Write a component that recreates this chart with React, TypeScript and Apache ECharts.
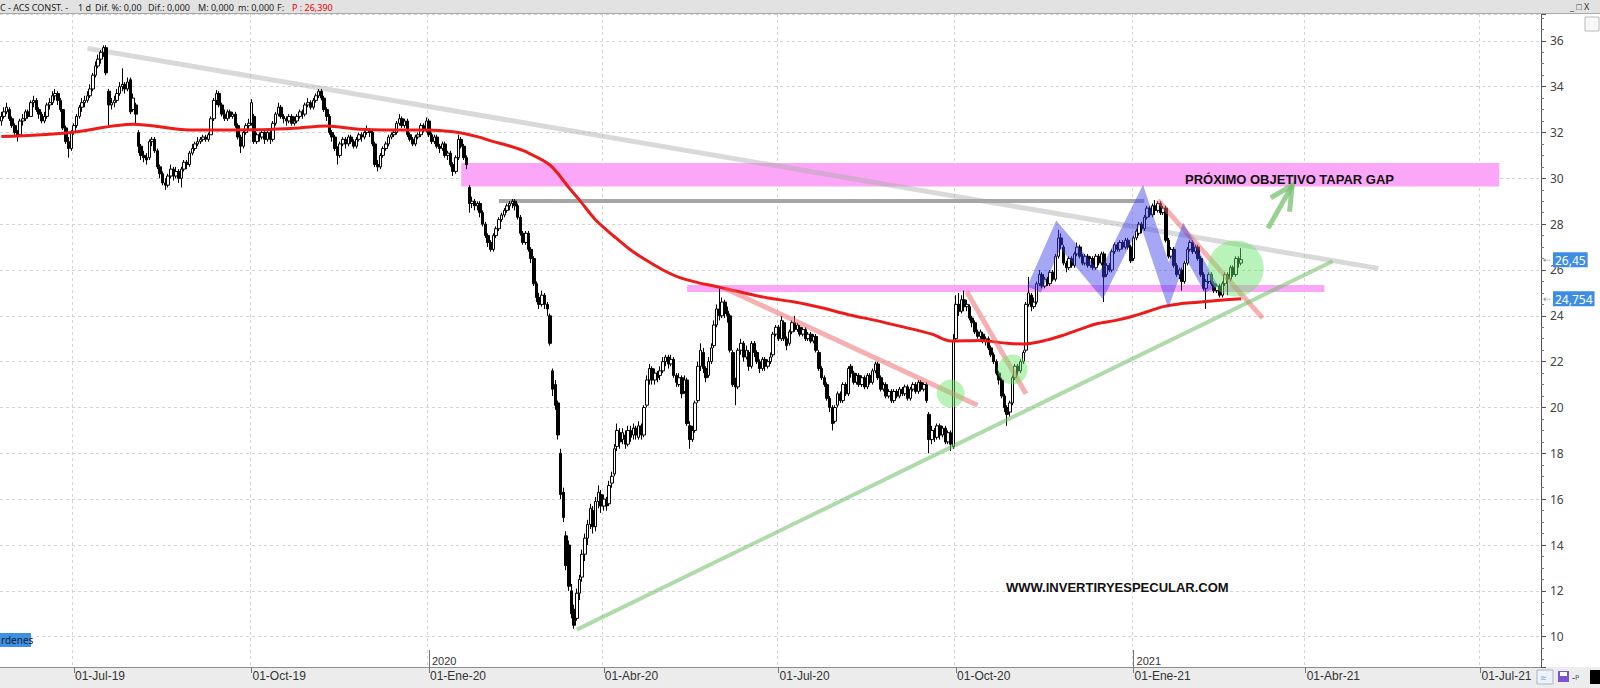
import React, { useEffect, useRef } from "react";
import * as echarts from "echarts";

// ---------- axis / calendar ----------
const START_DATE = "2019-05-23";
const SESSION_COUNT = 573;
const QUARTER_DATES = ["2019-07-01", "2019-10-01", "2020-01-01", "2020-04-01", "2020-07-01", "2020-10-01", "2021-01-01", "2021-04-01", "2021-07-01"];
const QUARTER_LABELS = ["01-Jul-19", "01-Oct-19", "01-Ene-20", "01-Abr-20", "01-Jul-20", "01-Oct-20", "01-Ene-21", "01-Abr-21", "01-Jul-21"];
const YEAR_DATES = ["2020-01-01", "2021-01-01"];
const YEAR_LABELS = ["2020", "2021"];
const Y_MIN = 8.678;
const Y_MAX = 37.169;

// ---------- candles [open, close, low, high] ----------
const candles2019a = [
  [32.5,32.7,32.3,32.9],[32.7,32.9,32.6,33.1],[32.9,33.1,32.8,33.3],[33.0,32.6,32.5,33.1],[32.6,32.3,32.2,32.7],
  [32.3,32.0,31.9,32.4],[32.0,31.9,31.6,32.1],[31.9,32.5,31.8,32.6],[32.5,32.6,32.3,32.8],[32.6,32.9,32.5,33.0],
  [32.9,32.7,32.6,33.0],[32.7,33.3,32.7,33.4],[33.3,33.4,33.1,33.6],[33.4,33.0,32.9,33.5],[33.0,32.8,32.6,33.1],
  [32.8,32.5,32.4,32.9],[32.5,32.7,32.4,32.9],[32.7,33.2,32.6,33.3],[33.2,33.3,33.0,33.5],[33.3,33.6,33.2,33.8],
  [33.6,33.7,33.4,33.9],[33.7,33.4,33.2,33.8],[33.4,33.0,32.9,33.5],[33.0,32.2,32.1,33.0],[32.2,31.6,31.5,32.3],
  [31.6,31.3,30.9,31.8],[31.3,32.0,31.2,32.1],[32.0,32.3,31.9,32.4],[32.3,32.7,32.2,32.8],[32.7,33.1,32.6,33.2],
  [33.1,33.3,32.9,33.5],[33.3,33.4,33.1,33.6],[33.4,33.6,33.3,33.8],[33.6,33.9,33.5,34.1],[33.9,34.5,33.8,34.6],
  [34.5,34.9,34.4,35.1],[34.9,35.2,34.8,35.4],[35.2,35.5,35.0,35.6],[35.5,35.7,35.3,35.8],[35.7,34.6,34.5,35.8],
  [33.8,33.2,32.3,33.9],[33.2,33.3,33.0,33.5],[33.3,33.4,33.1,33.6],[33.4,33.7,33.3,33.9],[33.7,34.0,33.6,34.2],
  [34.0,34.1,33.8,34.8],[34.1,33.9,33.7,34.2],[33.9,34.2,33.8,34.4],[34.3,32.9,32.8,34.4],[33.0,33.5,32.9,33.7],
  [33.2,32.8,32.4,33.3],[32.0,31.4,31.1,32.1],[31.4,31.0,30.8,31.5],[31.0,30.9,30.7,31.2],[30.9,30.8,30.6,31.1],
  [30.9,31.6,30.8,31.7],[31.6,31.7,31.4,31.8],[31.7,31.2,31.1,31.8],[31.2,30.5,30.4,31.3],[30.5,30.2,30.0,30.6],
  [30.2,29.8,29.7,30.3],[29.8,29.7,29.5,30.0],[29.7,30.1,29.6,30.2],[30.1,30.4,30.0,30.6],[30.4,30.1,29.9,30.5],
  [30.1,30.3,30.0,30.5],[30.3,30.0,29.8,30.4],[30.0,30.4,29.6,30.5],[30.4,30.7,30.3,30.8],[30.7,30.6,30.4,30.8],
  [30.6,31.1,30.5,31.2],[31.1,31.3,31.0,31.5],[31.3,31.5,31.2,31.6],[31.5,31.6,31.4,31.8],[31.6,31.7,31.5,31.8],
  [31.7,31.8,31.6,31.9],[31.8,31.7,31.6,31.9],[31.7,31.9,31.6,32.0],[31.9,32.6,31.9,32.7],[32.6,33.4,32.5,33.5],
  [33.4,33.7,33.2,33.85],[33.7,33.2,33.1,33.8],[33.2,32.8,32.7,33.3],[32.8,32.6,32.5,33.0],[32.6,32.9,32.5,33.0],
  [32.9,32.7,32.6,33.0],[32.7,32.8,32.6,32.9],[32.8,32.3,32.2,32.9],[32.3,31.8,31.7,32.4],[31.8,31.4,31.1,31.9],
  [31.4,32.0,31.3,32.1],[32.0,32.3,31.9,32.4],[32.3,32.4,32.1,32.6],[32.4,33.3,32.3,33.45],[32.7,31.6,31.5,32.8],
  [31.6,31.9,31.5,32.0],[31.9,31.8,31.6,32.0],[31.8,32.0,31.7,32.1],[32.0,31.7,31.5,32.1],[31.7,32.0,31.6,32.1]
];
const candles2019b = [
  [32.0,31.7,31.5,32.1],[31.7,32.4,31.6,32.5],[32.4,32.8,32.3,32.9],[32.8,33.1,32.7,33.3],[33.1,32.7,32.6,33.2],
  [32.7,32.6,32.4,32.8],[32.6,32.5,32.3,32.7],[32.5,32.7,32.4,32.8],[32.7,32.4,32.3,32.8],[32.4,32.5,32.3,32.7],
  [32.5,32.7,32.4,32.8],[32.7,32.9,32.6,33.0],[32.9,32.8,32.6,33.0],[32.8,33.2,32.7,33.3],[33.2,33.3,33.1,33.5],
  [33.3,33.1,33.0,33.4],[33.1,33.4,33.0,33.5],[33.4,33.6,33.3,33.7],[33.6,33.8,33.5,33.9],[33.8,33.5,33.4,33.9],
  [33.5,33.0,32.9,33.6],[33.0,32.7,32.5,33.1],[32.7,32.0,31.9,32.8],[32.0,31.8,31.6,32.1],[31.8,31.3,31.2,31.9],
  [31.3,31.0,30.6,31.4],[31.0,31.5,30.9,31.6],[31.5,31.7,31.4,31.8],[31.7,31.5,31.3,31.8],[31.5,31.8,31.4,31.9],
  [31.8,31.6,31.5,31.9],[31.6,31.4,31.3,31.7],[31.4,31.7,31.3,31.8],[31.7,31.9,31.6,32.0],[31.9,31.8,31.6,32.0],
  [31.8,32.0,31.7,32.1],[32.0,32.1,31.9,32.3],[32.1,32.0,31.8,32.2],[32.0,31.5,31.4,32.1],[31.5,30.6,30.5,31.6],
  [30.6,30.5,30.3,30.8],[30.5,31.0,30.4,31.1],[31.0,31.3,30.9,31.4],[31.3,31.5,31.2,31.6],[31.5,31.8,31.4,31.9],
  [31.8,31.9,31.7,32.0],[31.9,32.0,31.8,32.1],[32.0,32.4,31.9,32.5],[32.4,32.6,32.3,32.8],[32.6,32.3,32.2,32.7],
  [32.3,32.5,32.2,32.6],[32.5,31.9,31.8,32.6],[31.9,31.7,31.6,32.0],[31.7,31.5,31.4,31.8],[31.5,31.8,31.4,31.9],
  [31.8,31.9,31.7,32.0],[31.9,32.3,31.8,32.4],[32.3,32.1,32.0,32.4],[32.1,32.5,32.0,32.65],[32.5,31.9,31.8,32.6],
  [31.9,31.6,31.5,32.0],[31.6,31.8,31.5,31.9],[31.8,31.4,31.3,31.9],[31.4,31.3,31.1,31.5],[31.3,31.5,31.2,31.6],
  [31.5,31.0,30.9,31.6],[31.0,31.1,30.8,31.2],[31.1,30.6,30.5,31.2],[30.6,30.3,30.1,30.7],[30.3,30.9,30.2,31.0],
  [30.9,31.7,30.8,31.9],[31.7,31.4,31.3,31.8],[31.4,30.9,30.8,31.5],[30.9,30.6,30.4,31.0],[29.6,28.9,28.5,29.7],
  [28.9,29.0,28.7,29.2],[29.0,28.8,28.6,29.1],[28.8,28.9,28.6,29.0],[28.9,28.5,28.3,29.0],[28.5,28.0,27.9,28.6],
  [28.0,27.5,27.4,28.1],[27.5,27.2,27.0,27.6],[27.2,26.9,26.8,27.3],[26.9,27.5,26.8,27.6],[27.5,27.8,27.4,27.9],
  [27.8,28.2,27.7,28.3],[28.2,28.4,28.1,28.5],[28.4,28.6,28.3,28.7],[28.6,28.8,28.5,28.9],[28.8,28.9,28.6,29.0],
  [28.9,29.0,28.7,29.1],[29.0,28.8,28.6,29.1],[28.8,28.3,28.2,28.9],[28.3,27.6,27.5,28.4],[27.6,27.2,27.1,27.7],
  [27.2,27.6,27.1,27.7],[27.6,26.9,26.8,27.7],[26.9,26.5,26.3,27.0],[26.5,25.4,25.3,26.6],[25.4,24.8,24.6,25.5]
];
const candles2020a = [
  [24.8,24.5,24.3,25.0],[24.5,24.9,24.4,25.1],[24.9,24.5,24.3,25.0],[24.5,24.3,24.0,24.6],[24.0,22.8,22.7,24.1],
  [21.6,20.8,20.5,21.7],[21.0,20.1,19.9,21.2],[20.2,18.8,18.6,20.3],[18.0,16.2,16.0,18.2],[16.3,15.2,15.0,16.5],
  [14.4,13.1,12.9,14.6],[14.0,12.2,12.0,14.2],[12.0,11.0,10.8,12.3],[11.2,10.5,10.35,11.4],[10.8,11.9,10.7,12.1],
  [11.9,12.5,11.6,12.7],[12.6,13.6,12.4,13.8],[13.6,14.3,13.3,14.5],[14.3,14.9,14.0,15.1],[14.9,15.6,14.7,15.8],
  [15.5,14.8,14.5,15.7],[14.8,15.9,14.6,16.1],[15.9,16.3,15.6,16.6],[16.2,15.7,15.4,16.4],[15.7,16.0,15.5,16.2],
  [16.0,15.7,15.5,16.1],[15.8,16.6,15.7,16.8],[16.7,17.0,16.5,17.2],[17.1,18.2,17.0,18.4],[18.3,19.0,18.1,19.3],
  [18.9,18.5,18.2,19.1],[18.6,18.9,18.4,19.1],[18.8,18.4,18.2,19.0],[18.4,19.0,18.3,19.2],[19.0,18.7,18.5,19.2],
  [18.8,19.1,18.6,19.3],[19.1,18.8,18.6,19.2],[18.7,19.2,18.6,19.4],[19.2,18.8,18.6,19.3],[18.8,20.0,18.7,20.1],
  [20.1,21.2,20.0,21.4],[21.2,21.7,21.0,21.9],[21.7,21.2,21.0,21.8],[21.2,21.5,21.0,21.7],[21.5,21.3,21.1,21.6],
  [21.4,21.6,21.2,21.8],[21.6,22.0,21.5,22.2],[22.0,22.2,21.8,22.3],[22.2,21.9,21.7,22.3],[21.9,22.1,21.8,22.3],
  [22.1,21.4,21.3,22.2],[21.4,21.1,20.9,21.5],[21.0,21.3,20.9,21.5],[21.3,20.6,20.4,21.4],[20.7,21.2,20.6,21.4],
  [21.2,19.3,19.2,21.3],[19.2,18.6,18.2,19.4],[18.6,19.0,18.5,19.2],[19.0,20.2,18.9,20.3],[20.3,21.8,20.2,22.0],
  [21.8,22.5,21.6,22.8],[22.4,21.7,21.5,22.6],[21.7,21.3,21.1,21.8],[21.4,22.0,21.3,22.2],[22.0,22.6,21.9,22.8],
  [22.7,23.6,22.6,23.8],[23.6,24.3,23.5,24.5],[24.3,24.0,23.8,25.2],[24.0,24.6,23.9,24.8],[24.6,24.1,23.9,24.7],
  [24.2,24.0,23.7,24.4],[24.0,22.5,22.4,24.1],[22.4,21.0,20.9,22.5],[21.0,20.9,20.1,21.3],[20.9,22.5,20.8,22.6],
  [22.5,22.8,22.3,23.0],[22.8,22.2,22.0,22.9],[22.2,22.5,22.1,22.7],[22.4,21.8,21.6,22.5],[21.8,22.8,21.7,22.9],
  [22.8,22.4,22.2,22.9],[22.4,22.0,21.9,22.5],[22.0,21.7,21.5,22.1],[21.7,22.1,21.6,22.2],[22.1,21.8,21.6,22.2],
  [21.8,22.0,21.7,22.1],[22.0,22.2,21.9,22.4],[22.3,23.2,22.2,23.3],[23.2,23.5,23.1,23.6],[23.5,23.0,22.9,23.6],
  [23.0,23.8,22.9,24.0],[23.7,23.0,22.9,23.8],[23.0,22.7,22.5,23.1],[22.8,23.3,22.7,23.4],[23.3,23.7,23.2,23.8],
  [23.7,23.4,23.3,24.0],[23.4,23.6,23.3,23.7],[23.5,23.2,23.1,23.6],[23.2,23.4,23.1,23.5],[23.4,23.0,22.9,23.5]
];
const candles2020b = [
  [23.0,23.2,22.9,23.3],[23.2,22.9,22.8,23.3],[22.9,23.1,22.8,23.2],[23.1,22.5,22.4,23.2],[22.4,21.7,21.6,22.5],
  [21.7,21.3,21.2,21.8],[21.3,21.0,20.9,21.4],[21.0,20.4,20.3,21.1],[20.4,20.0,19.8,20.5],[20.0,19.3,19.0,20.1],
  [19.4,20.0,19.3,20.1],[20.1,20.6,20.0,20.7],[20.6,20.3,20.2,20.7],[20.3,21.0,20.2,21.1],[21.0,20.6,20.5,21.1],
  [20.6,21.7,20.5,21.8],[21.8,21.5,21.3,21.9],[21.5,21.1,21.0,21.6],[21.1,21.4,21.0,21.5],[21.4,21.0,20.9,21.5],
  [21.0,21.3,20.9,21.4],[21.3,20.9,20.8,21.4],[20.9,21.4,20.8,21.5],[21.4,21.1,21.0,21.5],[21.1,21.6,21.0,21.7],
  [21.6,21.9,21.5,22.0],[21.9,21.3,21.2,22.0],[21.3,20.8,20.7,21.4],[20.8,21.0,20.7,21.1],[21.0,20.5,20.4,21.1],
  [20.5,20.7,20.4,20.8],[20.7,20.3,20.2,20.8],[20.3,20.7,20.2,20.8],[20.7,20.5,20.4,20.8],[20.5,20.8,20.4,20.9],
  [20.8,20.6,20.5,20.9],[20.6,20.9,20.5,21.0],[20.9,20.4,20.3,21.0],[20.4,20.8,20.3,20.9],[20.8,21.0,20.7,21.1],
  [21.0,20.7,20.6,21.1],[20.7,21.1,20.6,21.2],[21.1,20.8,20.7,21.2],[20.8,21.0,20.7,21.1],[21.0,20.3,20.2,21.1],
  [19.7,18.6,18.0,19.8],[18.6,19.0,18.4,19.2],[19.0,18.7,18.5,19.1],[18.7,19.2,18.6,19.3],[19.2,18.8,18.6,19.3],
  [18.8,19.1,18.7,19.2],[19.1,18.5,18.4,19.2],[18.5,18.9,18.4,19.0],[18.9,18.4,18.1,19.0],[18.3,22.9,18.2,23.2],
  [23.0,24.5,22.9,24.9],[24.5,24.2,24.0,25.0],[24.2,24.7,24.1,24.9],[24.7,24.4,24.2,25.1],[24.4,24.5,24.2,24.7],
  [24.4,23.9,23.8,24.5],[23.9,23.7,23.5,24.0],[23.7,23.3,23.2,23.8],[23.3,23.1,23.0,23.4],[23.1,23.3,23.0,23.4],
  [23.2,22.9,22.8,23.3],[22.9,23.0,22.7,23.1],[23.0,22.6,22.5,23.1],[22.6,22.3,22.2,22.7],[22.3,22.0,21.9,22.4],
  [22.0,21.5,21.4,22.1],[21.5,21.2,21.0,21.6],[21.2,20.5,20.4,21.3],[20.5,20.0,19.8,20.6],[20.0,19.7,19.2,20.1],
  [19.8,20.2,19.6,20.3],[20.2,21.3,20.1,21.4],[21.3,21.8,21.2,21.9],[21.8,21.6,21.4,21.9],[21.6,22.0,21.5,22.1],
  [22.0,22.4,21.9,22.5],[22.5,24.5,22.4,24.6],[24.5,25.0,24.4,25.7],[24.9,24.4,24.2,25.0],[24.4,24.6,24.3,24.8],
  [24.6,25.4,24.5,25.5],[25.4,25.8,25.3,26.0],[25.8,25.3,25.2,25.9],[25.3,25.6,25.2,25.7],[25.6,25.4,25.3,25.7],
  [25.4,25.9,25.3,26.0],[25.9,25.6,25.5,26.0],[25.6,26.6,25.5,26.7],[26.6,27.4,26.5,27.75],[27.4,27.1,26.9,27.6],
  [27.0,26.3,26.2,27.1],[26.3,26.1,25.9,26.4],[26.1,26.5,26.0,26.6],[26.5,26.2,26.1,26.6],[26.2,26.7,26.1,26.8]
];
const candles2021 = [
  [26.7,27.0,26.6,27.2],[27.0,26.6,26.5,27.1],[26.6,26.3,26.2,26.7],[26.3,26.6,26.2,26.7],[26.6,26.2,26.1,26.7],
  [26.2,26.5,26.1,26.6],[26.5,26.1,26.0,26.6],[26.1,26.6,26.0,26.7],[26.6,26.3,26.2,26.7],[26.3,26.7,26.2,26.8],
  [26.7,25.7,24.6,26.8],[25.8,26.2,25.7,26.3],[26.2,26.0,25.9,26.3],[26.0,26.8,25.9,26.9],[26.8,27.1,26.7,27.2],
  [27.1,26.9,26.8,27.2],[26.9,27.2,26.8,27.3],[27.2,27.0,26.9,27.3],[27.0,27.3,26.9,27.4],[27.3,27.0,26.9,27.4],
  [27.0,26.4,26.3,27.1],[26.5,27.4,26.4,27.5],[27.4,27.7,27.3,27.8],[27.6,28.0,27.5,28.1],[28.0,27.8,27.6,28.1],
  [27.8,28.3,27.7,28.4],[28.3,28.7,28.2,28.8],[28.7,28.4,28.3,28.8],[28.4,28.8,28.3,28.9],[28.8,28.6,28.4,29.05],
  [28.6,28.9,28.5,29.0],[28.9,28.5,28.4,29.0],[28.5,28.7,28.4,28.8],[28.7,27.3,27.2,28.8],[27.3,26.6,26.5,27.4],
  [26.6,26.9,26.5,27.0],[26.9,26.2,26.1,27.0],[26.2,25.8,25.7,26.3],[25.8,26.0,25.6,26.1],[26.0,25.5,25.1,26.1],
  [25.5,26.3,25.4,26.4],[26.3,26.9,26.2,27.0],[26.9,27.2,26.8,27.3],[27.2,26.8,26.7,27.3],[26.8,27.0,26.7,27.1],
  [27.0,26.5,26.4,27.1],[26.5,25.8,25.7,26.6],[25.8,25.2,25.1,25.9],[25.2,25.5,24.3,25.6],[25.5,25.8,25.4,25.9],
  [25.8,25.4,25.3,25.9],[25.4,25.1,25.0,25.5],[25.1,25.3,25.0,25.4],[25.3,24.9,24.8,25.4],[24.9,25.4,24.8,25.5],
  [25.4,25.8,25.3,25.9],[25.8,25.6,24.9,25.9],[25.6,26.1,25.5,26.2],[26.1,25.8,25.7,26.2],[25.8,26.5,25.7,26.6],
  [26.5,26.3,26.1,26.6],[26.3,26.45,26.2,26.95]
];

// ---------- moving average (session index, value) ----------
const movingAverage = [
  [0,31.82],[25,31.99],[49,32.36],[70,32.11],[85,32.11],[97,32.12],[109,32.18],[121,32.28],[133,32.14],[146,32.11],
  [158,32.11],[168,32.03],[177,31.82],[183,31.6],[189,31.41],[195,31.16],[204,30.58],[211,29.6],[215,29.05],[221,28.18],
  [228,27.45],[234,26.87],[240,26.41],[246,26.0],[252,25.68],[259,25.45],[265,25.3],[271,25.14],[278,24.95],[285,24.78],
  [295,24.6],[305,24.35],[315,24.05],[325,23.8],[334,23.55],[346,23.2],[353,22.9],[364,22.92],[374,22.8],[380,22.77],
  [389,22.95],[395,23.16],[401,23.41],[407,23.64],[414,23.79],[420,23.96],[426,24.18],[432,24.4],[438,24.52],[445,24.59],
  [451,24.66],[461,24.75]
];

// ---------- drawn annotations (session index, price) ----------
const longDowntrend = [[32, 35.67], [512, 26.07]];
const resistanceLine = [[185, 29.01], [425, 29.01]];
const gapZone = [[171, 30.67], [557, 29.64]];
const supportLine = [[255, 25.19], [492, 25.19]];
const downLineA = [[269, 25.2], [363, 20.1]];
const downLineB = [[359, 25.05], [381, 20.6]];
const downLineC = [[430, 29.05], [469, 23.9]];
const uptrendLine = [[214, 10.31], [495, 26.38]];
const zigzag = [[384, 25.15], [393, 27.55], [409, 25.33], [424, 28.86], [434, 25.33], [440, 27.28], [450, 25.15]];
const arrowShaft = [[471, 27.82], [480, 29.69]];
const arrowHead = [[472, 29.15], [480, 29.69], [479, 28.54]];
const breakoutCircles = [[353, 20.61], [376, 21.66], [459, 26.07]];
const CIRCLE_DIAMETERS = [28, 30, 56];
const PRICE_TAGS = [26.45, 24.754];
const PRICE_TAG_TEXTS = ["26,45", "24,754"];

function buildSessions(start: string, count: number): string[] {
  const out: string[] = [];
  const d = new Date(start + "T00:00:00Z");
  while (out.length < count) {
    const wd = d.getUTCDay();
    if (wd !== 0 && wd !== 6) out.push(d.toISOString().slice(0, 10));
    d.setUTCDate(d.getUTCDate() + 1);
  }
  return out;
}

const NARROW = "'Liberation Sans Narrow', 'Liberation Sans', Arial, sans-serif";
const UI_FONT = "'Noto Sans', 'Open Sans', sans-serif";

function lineSeries(data: number[][], color: string, width: number, z: number, extra: any = {}) {
  return {
    type: "line",
    data,
    xAxisIndex: 0,
    yAxisIndex: 0,
    symbol: "none",
    showSymbol: false,
    silent: true,
    z,
    lineStyle: { color, width, cap: "butt", join: "miter" },
    ...extra,
  };
}

export default function App() {
  const ref = useRef<HTMLDivElement>(null);

  useEffect(() => {
    if (!ref.current) return;
    const chart = echarts.init(ref.current, undefined, { renderer: "svg" });
    const sessions = buildSessions(START_DATE, SESSION_COUNT);
    const quarterMap: Record<string, string> = {};
    QUARTER_DATES.forEach((d, i) => (quarterMap[d] = QUARTER_LABELS[i]));
    const yearMap: Record<string, string> = {};
    YEAR_DATES.forEach((d, i) => (yearMap[d] = YEAR_LABELS[i]));
    const isQuarter = (_i: number, v: string) => quarterMap[v] !== undefined;
    const isYear = (_i: number, v: string) => yearMap[v] !== undefined;

    const candles = [...candles2019a, ...candles2019b, ...candles2020a, ...candles2020b, ...candles2021];

    const headerParts: [number, string, string][] = [
      [0, "C - ACS CONST. -", "#222"],
      [78, "1 d", "#222"],
      [95, "Dif. %: 0,00", "#222"],
      [148, "Dif.: 0,000", "#222"],
      [198, "M: 0,000", "#222"],
      [238, "m: 0,000", "#222"],
      [277, "F:", "#222"],
      [292, "P : 26,390", "#e60000"],
    ];

    const option: any = {
      animation: false,
      backgroundColor: "#ffffff",
      grid: { left: 0, right: 59, top: 14, bottom: 21, containLabel: false, outerBoundsMode: "none" },
      xAxis: [
        {
          type: "category",
          data: sessions,
          boundaryGap: true,
          position: "bottom",
          axisLine: { show: true, lineStyle: { color: "#8c8c8c", width: 1 } },
          axisTick: { show: true, alignWithLabel: true, interval: isQuarter, length: 6, lineStyle: { color: "#777" } },
          axisLabel: {
            interval: isQuarter,
            formatter: (v: string) => quarterMap[v] ?? "",
            align: "left",
            margin: 3,
            padding: [0, 0, 0, 1],
            fontSize: 12,
            fontFamily: NARROW,
            color: "#333",
          },
          splitLine: { show: true, interval: isQuarter, lineStyle: { color: "#d4d4d4", type: [3, 3], width: 1 } },
        },
        {
          type: "category",
          data: sessions,
          boundaryGap: true,
          position: "bottom",
          axisLine: { show: false },
          axisTick: { show: true, inside: true, alignWithLabel: true, interval: isYear, length: 17, lineStyle: { color: "#777" } },
          axisLabel: {
            inside: true,
            interval: isYear,
            formatter: (v: string) => yearMap[v] ?? "",
            align: "left",
            margin: 1,
            padding: [0, 0, 0, 3],
            fontSize: 11,
            fontFamily: NARROW,
            color: "#333",
          },
          splitLine: { show: false },
        },
      ],
      yAxis: {
        type: "value",
        position: "right",
        min: Y_MIN,
        max: Y_MAX,
        splitNumber: 14,
        minInterval: 2,
        maxInterval: 2,
        axisLine: { show: true, lineStyle: { color: "#555" } },
        axisTick: { show: true, length: 5, lineStyle: { color: "#555" } },
        minorTick: { show: true, splitNumber: 4, length: 3, lineStyle: { color: "#777" } },
        axisLabel: { margin: 9, fontSize: 12, color: "#444", fontFamily: UI_FONT, showMinLabel: false, showMaxLabel: false },
        splitLine: { show: true, lineStyle: { color: "#d4d4d4", type: [3, 3], width: 1 } },
      },
      series: [
        lineSeries(supportLine, "#fba6f6", 7, 1),
        lineSeries(longDowntrend, "rgba(170,170,170,0.45)", 5, 2),
        lineSeries(resistanceLine, "#a6a6a6", 4, 2),
        {
          type: "candlestick",
          name: "ACS",
          data: candles,
          barWidth: 3,
          z: 3,
          itemStyle: { color: "#ffffff", color0: "#000000", borderColor: "#000000", borderColor0: "#000000", borderWidth: 1 },
          markArea: {
            silent: true,
            itemStyle: { color: "#fba6f6" },
            data: [[{ coord: gapZone[0] }, { coord: gapZone[1] }]],
          },
          markLine: {
            silent: true,
            symbol: ["none", "none"],
            z: 20,
            lineStyle: { color: "rgba(0,0,0,0)", width: 0, opacity: 1 },
            data: PRICE_TAGS.map((v, i) => ({
              yAxis: v,
              lineStyle: { color: "rgba(0,0,0,0)", width: 0, opacity: 1 },
              label: {
                show: true,
                position: "end",
                distance: 2,
                opacity: 1,
                formatter: "{a|⇠}{b|" + PRICE_TAG_TEXTS[i] + "}",
                rich: {
                  a: { color: "#888", fontSize: 9, padding: [0, 2, 0, 0] },
                  b: { backgroundColor: "#3e8de4", color: "#ffffff", fontSize: 12, fontFamily: UI_FONT, padding: [2, 2, 1, 2] },
                },
              },
            })),
          },
        },
        lineSeries(movingAverage, "#ee1b1b", 3, 4, { smooth: 0.3 }),
        lineSeries(downLineA, "rgba(236,100,100,0.5)", 5, 5),
        lineSeries(downLineB, "rgba(236,100,100,0.5)", 5, 5),
        lineSeries(downLineC, "rgba(236,100,100,0.5)", 5, 5),
        lineSeries(uptrendLine, "rgba(110,190,100,0.55)", 4, 5),
        lineSeries(zigzag, "rgba(60,60,235,0.46)", 15, 5),
        lineSeries(arrowShaft, "rgba(110,190,100,0.7)", 5, 5),
        lineSeries(arrowHead, "rgba(110,190,100,0.7)", 5, 5),
        {
          type: "scatter",
          data: breakoutCircles,
          symbol: "circle",
          symbolSize: (_v: any, p: any) => CIRCLE_DIAMETERS[p.dataIndex],
          itemStyle: { color: "rgba(105,228,105,0.58)" },
          silent: true,
          z: 6,
        },
      ],
      graphic: [
        { type: "rect", shape: { x: 0, y: 0, width: 1600, height: 13 }, style: { fill: "#e2e2e2" }, z: 100 },
        { type: "line", shape: { x1: 0, y1: 13.5, x2: 1600, y2: 13.5 }, style: { stroke: "#a8a8a8", lineWidth: 1 }, z: 100 },
        ...headerParts.map(([x, t, c]) => ({
          type: "text",
          x,
          y: 7,
          style: { text: t, fill: c, font: "9px " + UI_FONT, verticalAlign: "middle" },
          z: 101,
        })),
        { type: "text", x: 1570, y: 6, style: { text: "_ □ X", fill: "#333", font: "9px " + UI_FONT, verticalAlign: "middle" }, z: 101 },
        { type: "rect", shape: { x: 1585, y: 17, width: 14, height: 14 }, style: { fill: "#f7f7f7", stroke: "#b8b8b8", lineWidth: 1 }, z: 50 },
        { type: "rect", shape: { x: 0, y: 667, width: 1600, height: 21 }, style: { fill: "#ececec" }, z: -5 },
        { type: "rect", shape: { x: 1537, y: 670, width: 16, height: 14 }, style: { fill: "#eef2fa", stroke: "#a9b4c8", lineWidth: 1 }, z: 50 },
        { type: "text", x: 1540, y: 677, style: { text: "≈", fill: "#6d9fe0", font: "11px " + UI_FONT, verticalAlign: "middle" }, z: 51 },
        { type: "rect", shape: { x: 1558, y: 671, width: 11, height: 11 }, style: { fill: "#7b52cf" }, z: 50 },
        { type: "rect", shape: { x: 1560, y: 672, width: 7, height: 4 }, style: { fill: "#ffffff" }, z: 51 },
        { type: "text", x: 1572, y: 677, style: { text: "-ᵖ", fill: "#444", font: "10px " + UI_FONT, verticalAlign: "middle" }, z: 51 },
        { type: "rect", shape: { x: 1590, y: 670, width: 10, height: 14 }, style: { fill: "#000000" }, z: 50 },
        { type: "rect", shape: { x: 0, y: 633, width: 31, height: 14 }, style: { fill: "#3f8fe2" }, z: 50 },
        { type: "text", x: 1, y: 640, style: { text: "rdenes", fill: "#0f2238", font: "10px " + UI_FONT, verticalAlign: "middle" }, z: 51 },
        {
          type: "text",
          x: 1185,
          y: 179,
          style: { text: "PRÓXIMO OBJETIVO TAPAR GAP", fill: "#111", font: "bold 13px 'Liberation Sans', Arial, sans-serif", verticalAlign: "middle" },
          z: 60,
        },
        {
          type: "text",
          x: 1006,
          y: 587,
          style: { text: "WWW.INVERTIRYESPECULAR.COM", fill: "#111", font: "bold 13px 'Liberation Sans', Arial, sans-serif", verticalAlign: "middle" },
          z: 60,
        },
      ],
    };

    chart.setOption(option);
    return () => chart.dispose();
  }, []);

  return <div ref={ref} style={{ position: "fixed", left: 0, top: 0, width: 1600, height: 688, background: "#fff" }} />;
}
